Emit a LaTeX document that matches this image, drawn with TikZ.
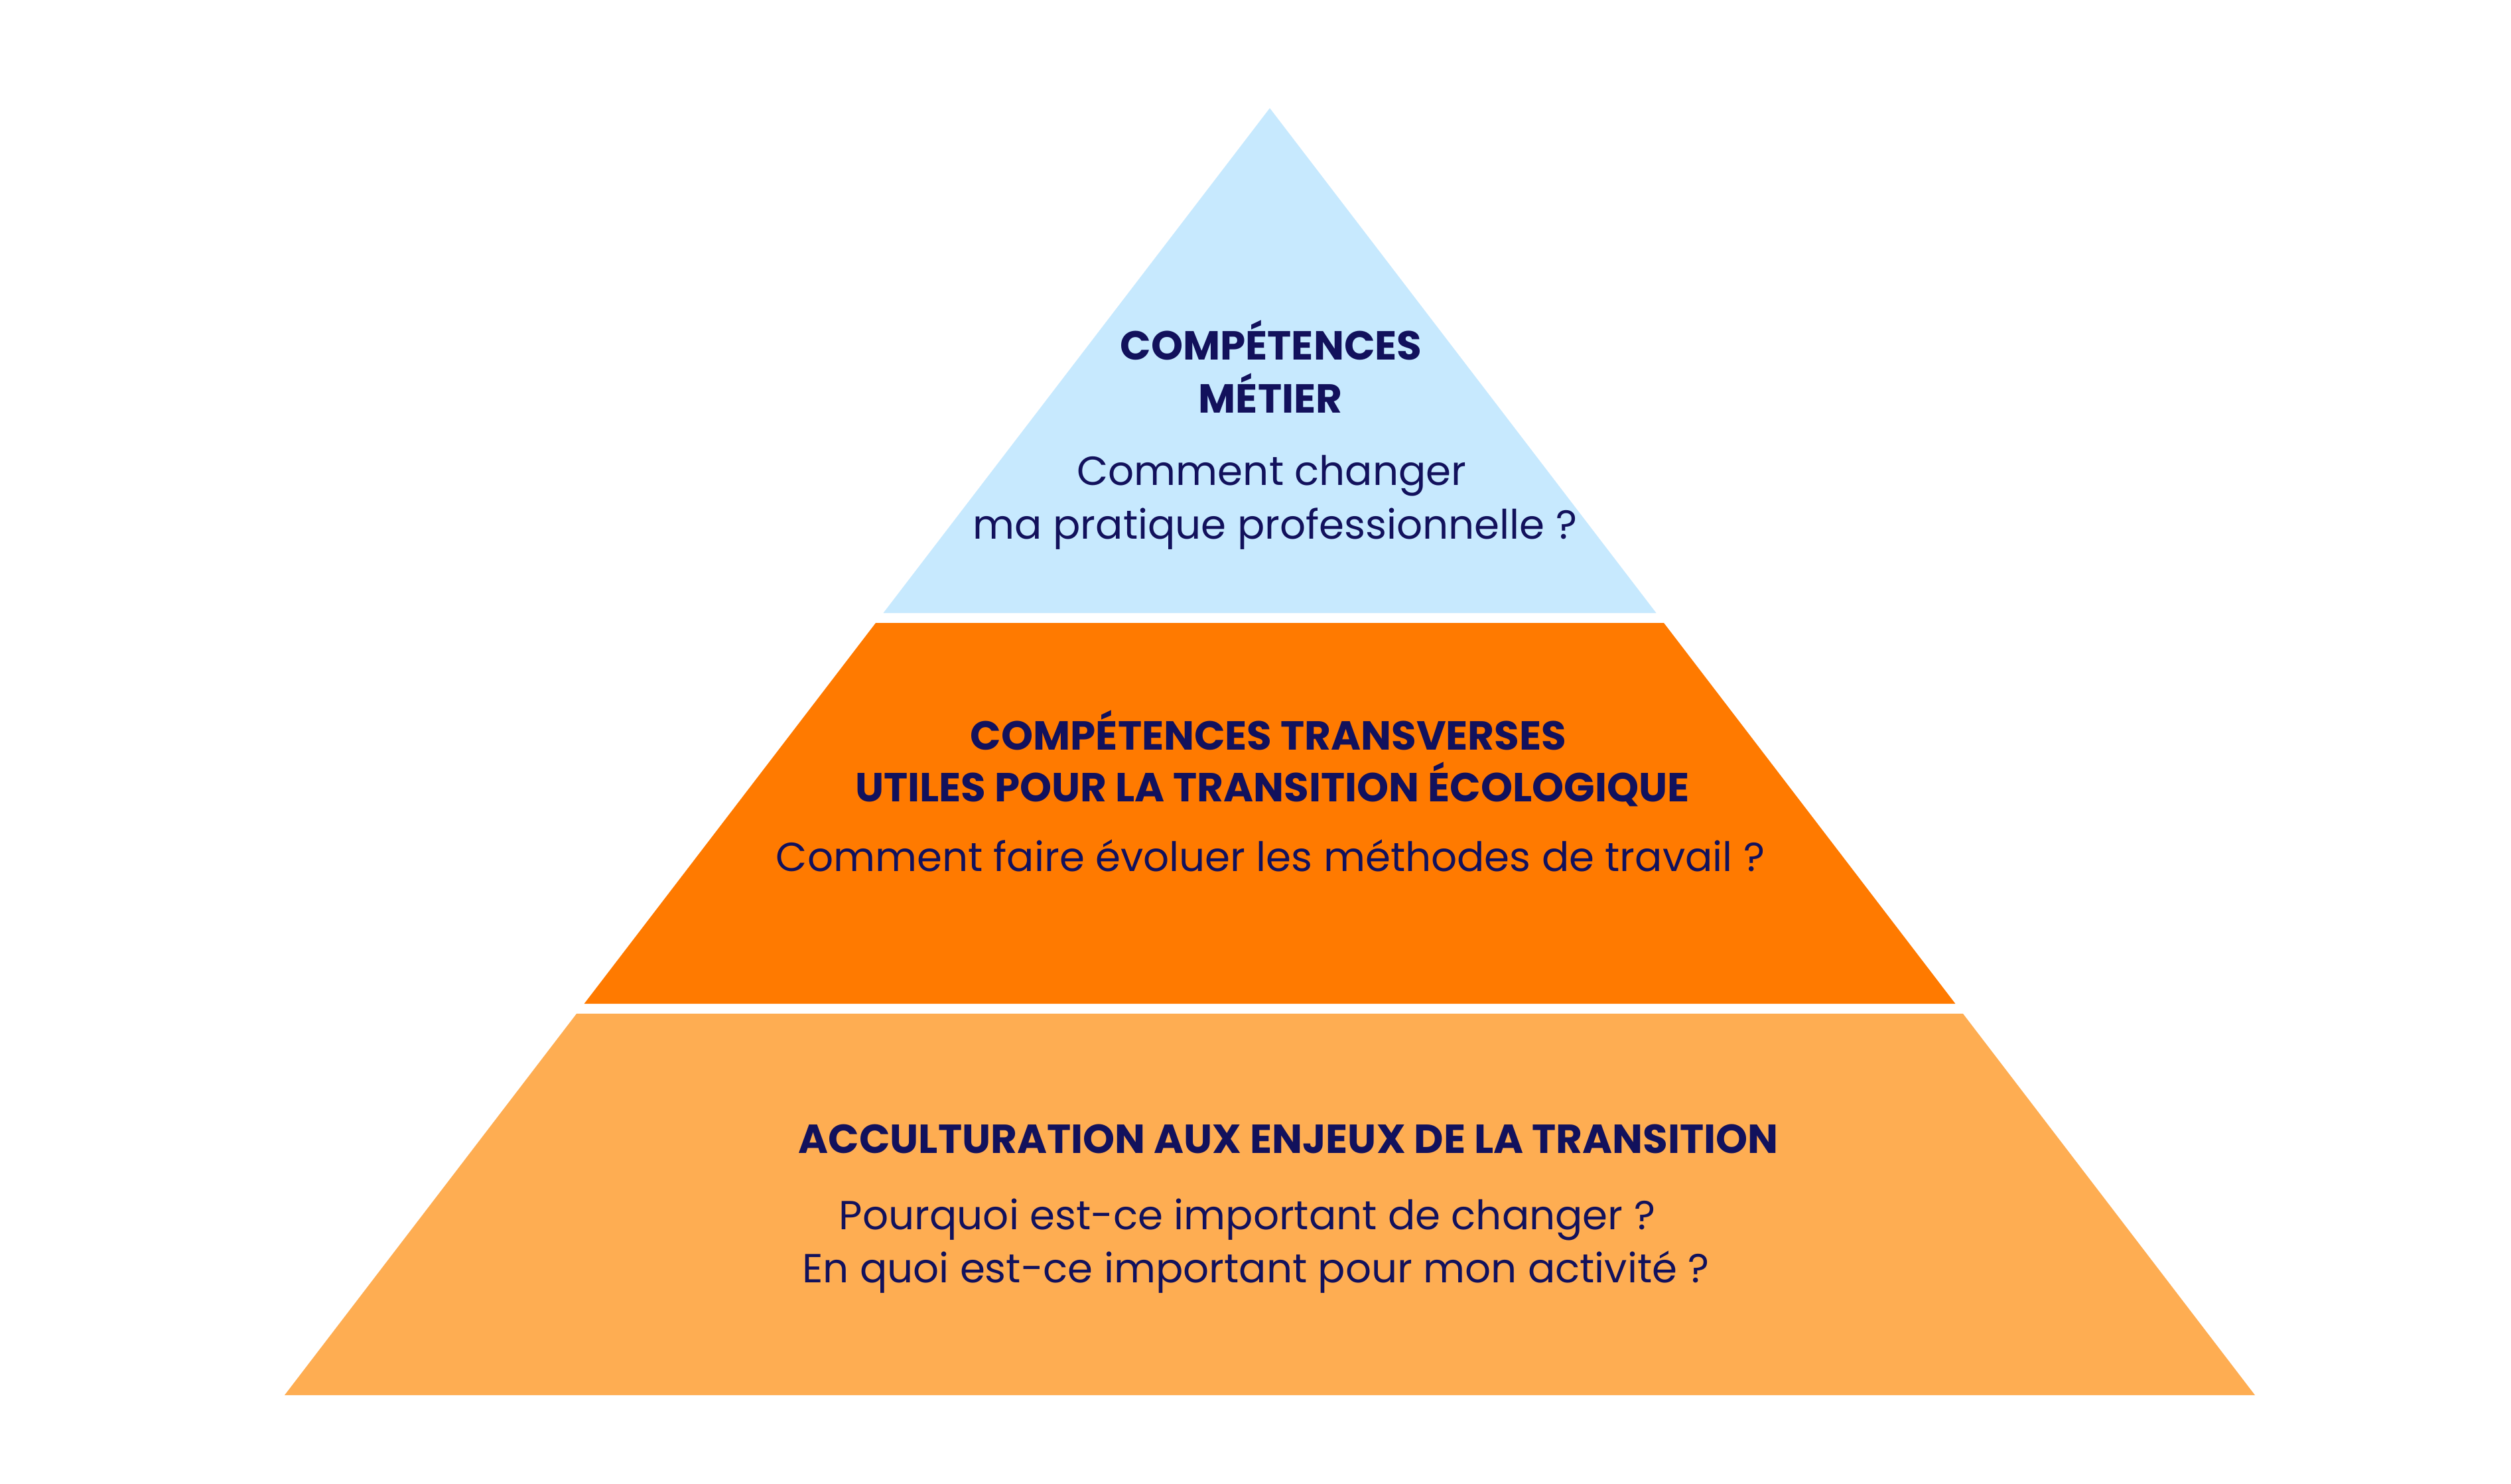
\documentclass[tikz,border=0pt]{standalone}
\usepackage{fontspec}
\setmainfont{Poppins}
\usepackage{tikz}
\usetikzlibrary{positioning}

\definecolor{metierblue}{HTML}{C7E9FE}
\definecolor{transorange}{HTML}{FF7A00}
\definecolor{acculorange}{HTML}{FEAD52}
\definecolor{navytext}{HTML}{12115C}

\begin{document}
\begin{tikzpicture}[y=-1cm]
            \tikzstyle{title} = [font=\fontsize{17.4}{20}\selectfont\bfseries, text=navytext, anchor=base, inner sep=0pt]
            \tikzstyle{question} = [font=\fontsize{17.4}{20}\selectfont, text=navytext, anchor=base, inner sep=0pt]

            \useasboundingbox [fill=white] (0,0) rectangle (37.85,22.36);

            % corners of the three layers
            \coordinate (apex) at (19.14,1.63);
            \coordinate (metierL) at (13.315,9.24);
            \coordinate (metierR) at (24.965,9.24);
            \coordinate (transTL) at (13.20,9.39);
            \coordinate (transTR) at (25.08,9.39);
            \coordinate (transBL) at (8.806,15.13);
            \coordinate (transBR) at (29.474,15.13);
            \coordinate (accuTL) at (8.691,15.28);
            \coordinate (accuTR) at (29.589,15.28);
            \coordinate (accuBL) at (4.29,21.03);
            \coordinate (accuBR) at (33.99,21.03);

            \fill [metierblue] (apex) -- (metierR) -- (metierL) -- cycle;
            \fill [transorange] (transTL) -- (transTR) -- (transBR) -- (transBL) -- cycle;
            \fill [acculorange] (accuTL) -- (accuTR) -- (accuBR) -- (accuBL) -- cycle;

            \node [title] (metier1) at (19.16,5.42) {COMPÉTENCES};
            \node [title] (metier2) at (19.15,6.22) {MÉTIER};
            \node [question] (metierQ1) at (19.17,7.31) {Comment changer};
            \node [question] (metierQ2) at (19.22,8.12) {ma pratique professionnelle ?};

            \node [title] (trans1) at (19.12,11.30) {COMPÉTENCES TRANSVERSES};
            \node [title] (trans2) at (19.18,12.08) {UTILES POUR LA TRANSITION ÉCOLOGIQUE};
            \node [question] (transQ) at (19.15,13.13) {Comment faire évoluer les méthodes de travail ?};

            \node [title] (accu1) at (19.42,17.38) {ACCULTURATION AUX ENJEUX DE LA TRANSITION};
            \node [question] (accuQ1) at (18.80,18.53) {Pourquoi est-ce important de changer ?};
            \node [question] (accuQ2) at (18.93,19.33) {En quoi est-ce important pour mon activité ?};
        \end{tikzpicture}
\end{document}
